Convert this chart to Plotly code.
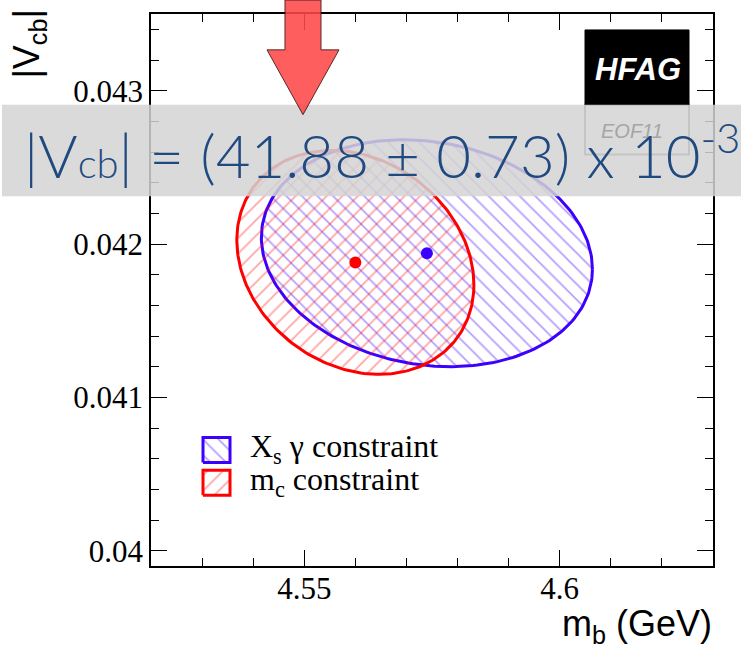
import numpy as np
import plotly.graph_objects as go

# Fit results in the kinetic scheme: one entry per external constraint
constraints = ["X<sub>s</sub> γ constraint", "m<sub>c</sub> constraint"]
mb_central = [4.574, 4.560]        # GeV
mb_sigma = [0.0324, 0.0232]        # GeV
vcb_central = [0.04194, 0.04188]
vcb_sigma = [0.00074, 0.00073]
correlation = [-0.14, -0.20]
line_colors = ["#3c00ff", "#ff0000"]
hatch_colors = ["rgba(60,0,255,0.75)", "rgba(255,0,0,0.7)"]
hatch_shapes = ["\\", "/"]

x_range = [4.52, 4.63]
y_range = [0.0399, 0.0435]
x_tickvals = [4.55, 4.60]
x_ticktext = ["4.55", "4.6"]
y_tickvals = [0.040, 0.041, 0.042, 0.043]
y_ticktext = ["0.04", "0.041", "0.042", "0.043"]

vcb_value = 41.88
vcb_error = 0.73

# page geometry (pixels) used to place the decorations
W, H = 741, 653
L, R, T, B = 151, 713, 12, 566


def fx(x):
    return (x - L) / (R - L)


def fy(y):
    return (B - y) / (B - T)


def ellipse(mx, sx, my, sy, rho, n=240):
    t = np.linspace(0, 2 * np.pi, n)
    ex = mx + sx * np.cos(t)
    ey = my + sy * (rho * np.cos(t) + np.sqrt(1 - rho ** 2) * np.sin(t))
    return ex, ey


fig = go.Figure()

# 1-sigma contours with hatched fill
for i in range(len(constraints)):
    ex, ey = ellipse(mb_central[i], mb_sigma[i], vcb_central[i], vcb_sigma[i], correlation[i])
    fig.add_trace(go.Scatter(
        x=ex, y=ey, mode="lines", fill="toself",
        fillcolor="rgba(0,0,0,0)",
        fillpattern=dict(shape=hatch_shapes[i], fgcolor=hatch_colors[i],
                         bgcolor="rgba(0,0,0,0)", size=11, solidity=0.16),
        line=dict(color=line_colors[i], width=3),
        showlegend=False, hoverinfo="skip",
    ))

# central values
for i in range(len(constraints)):
    fig.add_trace(go.Scatter(
        x=[mb_central[i]], y=[vcb_central[i]], mode="markers",
        marker=dict(color=line_colors[i], size=12),
        showlegend=False,
    ))

# legend swatches on an overlay frame spanning the plot area
sw_x = [fx(203), fx(230)]
sw_rows = [(437, 462), (470, 495)]
for i in range(len(constraints)):
    y0, y1 = fy(sw_rows[i][1]), fy(sw_rows[i][0])
    fig.add_trace(go.Scatter(
        x=[sw_x[0], sw_x[1], sw_x[1], sw_x[0], sw_x[0]],
        y=[y0, y0, y1, y1, y0],
        xaxis="x2", yaxis="y2", mode="lines", fill="toself",
        fillcolor="rgba(0,0,0,0)",
        fillpattern=dict(shape=hatch_shapes[i], fgcolor=hatch_colors[i],
                         bgcolor="rgba(0,0,0,0)", size=11, solidity=0.16),
        line=dict(color=line_colors[i], width=3),
        showlegend=False, hoverinfo="skip",
    ))

serif = "Liberation Serif"
sans = "Liberation Sans"

annotations = []
for i, name in enumerate(constraints):
    annotations.append(dict(
        text=name, xref="paper", yref="paper",
        x=fx(248), y=fy((sw_rows[i][0] + sw_rows[i][1]) / 2 - 1),
        xanchor="left", yanchor="middle", showarrow=False,
        font=dict(family=serif, size=32, color="black"),
    ))

# axis titles
annotations.append(dict(
    text="m<sub>b</sub> (GeV)", xref="paper", yref="paper",
    x=fx(714), y=fy(626), xanchor="right", yanchor="middle", showarrow=False,
    font=dict(family=sans, size=36, color="black"),
))
annotations.append(dict(
    text="|V<sub>cb</sub>|", xref="paper", yref="paper", textangle=-90,
    x=fx(29), y=fy(6), xanchor="center", yanchor="top", showarrow=False,
    font=dict(family=sans, size=36, color="black"),
))

# HFAG logo texts
annotations.append(dict(
    text="<b><i>HFAG</i></b>", xref="paper", yref="paper",
    x=fx(638), y=fy(68), xanchor="center", yanchor="middle", showarrow=False,
    font=dict(family=sans, size=31, color="white"),
))
annotations.append(dict(
    text="<i>EOF11</i>", xref="paper", yref="paper",
    x=fx(632), y=fy(129), xanchor="center", yanchor="middle", showarrow=False,
    font=dict(family=sans, size=20, color="rgb(165,165,165)"),
))

# result banner
annotations.append(dict(
    text=("|V<span style='font-size:40px'>cb</span>| = (%.2f ± %.2f) x 10<sup>-3</sup>"
          % (vcb_value, vcb_error)),
    xref="paper", yref="paper", x=fx(22), y=fy(150),
    xanchor="left", yanchor="middle", showarrow=False,
    font=dict(family="Lato", size=60, weight=300, color="#1f4a80"),
))

shapes = [
    # logo
    dict(type="rect", xref="paper", yref="paper", layer="above",
         x0=fx(585), x1=fx(689), y0=fy(153), y1=fy(103),
         fillcolor="white", line=dict(color="rgb(110,110,110)", width=2)),
    dict(type="rect", xref="paper", yref="paper", layer="above",
         x0=fx(585), x1=fx(689), y0=fy(103), y1=fy(28),
         fillcolor="black", line=dict(color="black", width=1)),
    # translucent banner
    dict(type="rect", xref="paper", yref="paper", layer="above",
         x0=fx(2), x1=fx(745), y0=fy(195), y1=fy(103),
         fillcolor="rgb(211,211,211)", opacity=0.85, line=dict(width=0)),
]

arrow_pts = [(285, -2), (321, -2), (321, 48), (339, 48), (303, 113), (267, 48), (285, 48)]
path = "M " + " L ".join("%.5f,%.5f" % (fx(a), fy(b)) for a, b in arrow_pts) + " Z"
shapes.append(dict(type="path", path=path, xref="paper", yref="paper", layer="above",
                   fillcolor="rgb(255,72,72)", opacity=0.88,
                   line=dict(color="rgb(70,10,10)", width=1)))

tick_font = dict(family=serif, size=31, color="black")

fig.update_layout(
    width=W, height=H,
    margin=dict(l=L, r=W - R, t=T, b=H - B),
    paper_bgcolor="white", plot_bgcolor="white",
    showlegend=False,
    xaxis=dict(
        range=x_range, tickvals=x_tickvals, ticktext=x_ticktext,
        ticks="inside", ticklen=16, tickwidth=1.2, tickcolor="black",
        showline=True, linecolor="black", linewidth=1.5, mirror="ticks",
        showgrid=False, zeroline=False, tickfont=tick_font,
        ticklabelstandoff=-6,
        minor=dict(dtick=0.01, tick0=4.52, ticks="inside", ticklen=8,
                   tickcolor="black", tickwidth=1.2, showgrid=False),
    ),
    yaxis=dict(
        range=y_range, tickvals=y_tickvals, ticktext=y_ticktext,
        ticks="inside", ticklen=16, tickwidth=1.2, tickcolor="black",
        showline=True, linecolor="black", linewidth=1.5, mirror="ticks",
        showgrid=False, zeroline=False, tickfont=tick_font,
        minor=dict(dtick=0.0002, tick0=0.04, ticks="inside", ticklen=8,
                   tickcolor="black", tickwidth=1.2, showgrid=False),
    ),
    xaxis2=dict(range=[0, 1], domain=[0, 1], overlaying="x", anchor="y2",
                visible=False, fixedrange=True),
    yaxis2=dict(range=[0, 1], domain=[0, 1], overlaying="y", anchor="x2",
                visible=False, fixedrange=True),
    annotations=annotations,
    shapes=shapes,
)

fig.write_html("out.html")
